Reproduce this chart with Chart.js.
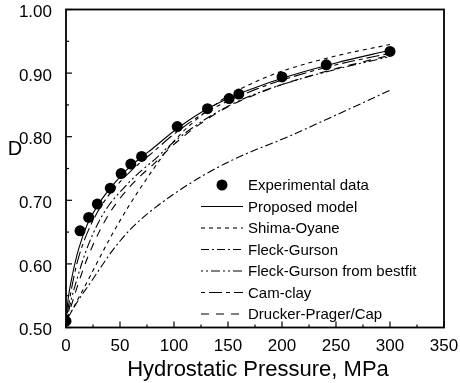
<!DOCTYPE html>
<html><head><meta charset="utf-8">
<script src="https://cdn.jsdelivr.net/npm/chart.js@4/dist/chart.umd.min.js"></script>
<style>html,body{margin:0;padding:0;background:#fff;}canvas{display:block;}</style>
</head><body>
<canvas id="c" width="460" height="383"></canvas>
<script>
// ---- data ----
const expPressure = [0,13,21,29,41,51,60,70,103,131,151,160,200,241,300];
const expDensity  = [0.51,0.652,0.673,0.694,0.719,0.742,0.757,0.769,0.816,0.844,0.860,0.867,0.894,0.913,0.934];
const modelPressure = [0,2,5,10,15,20,30,40,50,60,70,80,100,125,150,175,200,250,300];
const proposedModel = [0.51,0.545,0.575,0.613,0.641,0.663,0.694,0.717,0.737,0.754,0.768,0.781,0.809,0.838,0.860,0.877,0.892,0.916,0.936];
const shimaOyane    = [0.51,0.515,0.525,0.541,0.557,0.573,0.606,0.638,0.668,0.696,0.722,0.747,0.793,0.833,0.864,0.886,0.903,0.927,0.945];
const fleckGurson   = [0.51,0.516,0.525,0.539,0.552,0.564,0.589,0.614,0.636,0.655,0.671,0.685,0.710,0.737,0.760,0.779,0.796,0.834,0.873];
const fleckBestfit  = [0.51,0.522,0.545,0.575,0.603,0.627,0.665,0.693,0.713,0.731,0.747,0.761,0.792,0.823,0.848,0.867,0.882,0.906,0.926];
const camClay       = [0.51,0.530,0.560,0.600,0.628,0.650,0.684,0.709,0.729,0.746,0.761,0.775,0.804,0.834,0.856,0.874,0.889,0.913,0.931];
const druckerPrager = [0.51,0.518,0.535,0.562,0.587,0.610,0.648,0.679,0.703,0.723,0.740,0.755,0.788,0.821,0.847,0.866,0.882,0.907,0.928];
const seriesLabels = ['Experimental data','Proposed model','Shima-Oyane','Fleck-Gurson','Fleck-Gurson from bestfit','Cam-clay','Drucker-Prager/Cap'];
const xTickValues = [0,50,100,150,200,250,300,350];
const yTickValues = [0.50,0.60,0.70,0.80,0.90,1.00];
const xTitle = 'Hydrostatic Pressure, MPa';
const yTitle = 'D';

const FONT = '"Liberation Sans", Arial, Helvetica, sans-serif';
const pts = (xs, ys) => xs.map((x, i) => ({x, y: ys[i]}));
const modelSets = [proposedModel, shimaOyane, fleckGurson, fleckBestfit, camClay, druckerPrager];
const dashes = [[], [4,4], [8,3,2,3], [2,3,2,3,9,3], [4,4,13,4], [8,7]];

const datasets = [{
  label: seriesLabels[0], data: pts(expPressure, expDensity), showLine: false,
  pointRadius: 5.5, pointBackgroundColor: '#000', pointBorderColor: '#000', pointBorderWidth: 0, order: 0
}].concat(modelSets.map((s, i) => ({
  label: seriesLabels[i + 1], data: pts(modelPressure, s), borderColor: '#000', borderWidth: 1.1,
  borderDash: dashes[i], pointRadius: 0, fill: false, cubicInterpolationMode: 'monotone', order: 1
})));

const decor = {
  id: 'decor',
  afterDraw(chart) {
    const ctx = chart.ctx, a = chart.chartArea, xs = chart.scales.x, ys = chart.scales.y;
    ctx.save();
    ctx.strokeStyle = '#000'; ctx.setLineDash([]);
    ctx.lineWidth = 1.8;
    ctx.strokeRect(a.left, a.top, a.right - a.left, a.bottom - a.top);
    ctx.lineWidth = 1.2;
    for (let v = 0; v <= 350; v += 25) {
      const px = xs.getPixelForValue(v), len = v % 50 === 0 ? 6 : 3;
      ctx.beginPath(); ctx.moveTo(px, a.bottom); ctx.lineTo(px, a.bottom - len); ctx.stroke();
    }
    for (let k = 0; k <= 10; k++) {
      const v = 0.5 + k * 0.05, py = ys.getPixelForValue(v), len = k % 2 === 0 ? 6 : 3;
      ctx.beginPath(); ctx.moveTo(a.left, py); ctx.lineTo(a.left + len, py); ctx.stroke();
    }
    // titles
    ctx.fillStyle = '#000';
    ctx.font = '22px ' + FONT; ctx.textAlign = 'center'; ctx.textBaseline = 'middle';
    ctx.fillText(xTitle, 258, 370);
    ctx.font = '20px ' + FONT;
    ctx.fillText(yTitle, 15, 149);
    // legend
    ctx.font = '15px ' + FONT; ctx.textAlign = 'left';
    const y0 = 185, dy = 21.5, sx1 = 201, sx2 = 243, tx = 248;
    chart.data.datasets.forEach((ds, i) => {
      const y = y0 + i * dy;
      if (ds.showLine === false) {
        ctx.beginPath(); ctx.arc((sx1 + sx2) / 2, y, 5.5, 0, Math.PI * 2); ctx.fill();
      } else {
        ctx.lineWidth = 1.1; ctx.setLineDash(ds.borderDash || []);
        ctx.beginPath(); ctx.moveTo(sx1, y); ctx.lineTo(sx2, y); ctx.stroke();
        ctx.setLineDash([]);
      }
      ctx.fillText(ds.label, tx, y + 1);
    });
    ctx.restore();
  }
};

new Chart(document.getElementById('c'), {
  type: 'line',
  data: { datasets },
  options: {
    responsive: false, animation: false,
    layout: { padding: { left: 0, right: 16, top: 9.5, bottom: 0 } },
    plugins: { legend: { display: false }, tooltip: { enabled: false } },
    scales: {
      x: {
        type: 'linear', min: 0, max: 350,
        afterBuildTicks: s => { s.ticks = xTickValues.map(v => ({value: v})); },
        afterFit: s => { s.height = 55.5; s.paddingLeft = 0; s.paddingRight = 0; },
        grid: { display: false }, border: { display: false },
        ticks: { color: '#000', font: { family: FONT, size: 17 }, padding: 1, maxRotation: 0, callback: v => String(v) }
      },
      y: {
        type: 'linear', min: 0.5, max: 1.0,
        afterBuildTicks: s => { s.ticks = yTickValues.map(v => ({value: v})); },
        afterFit: s => { s.width = 66; s.paddingTop = 0; s.paddingBottom = 0; },
        grid: { display: false }, border: { display: false },
        ticks: { color: '#000', font: { family: FONT, size: 17 }, padding: 6, labelOffset: 3, callback: v => Number(v).toFixed(2) }
      }
    }
  },
  plugins: [decor]
});
</script>
</body></html>
